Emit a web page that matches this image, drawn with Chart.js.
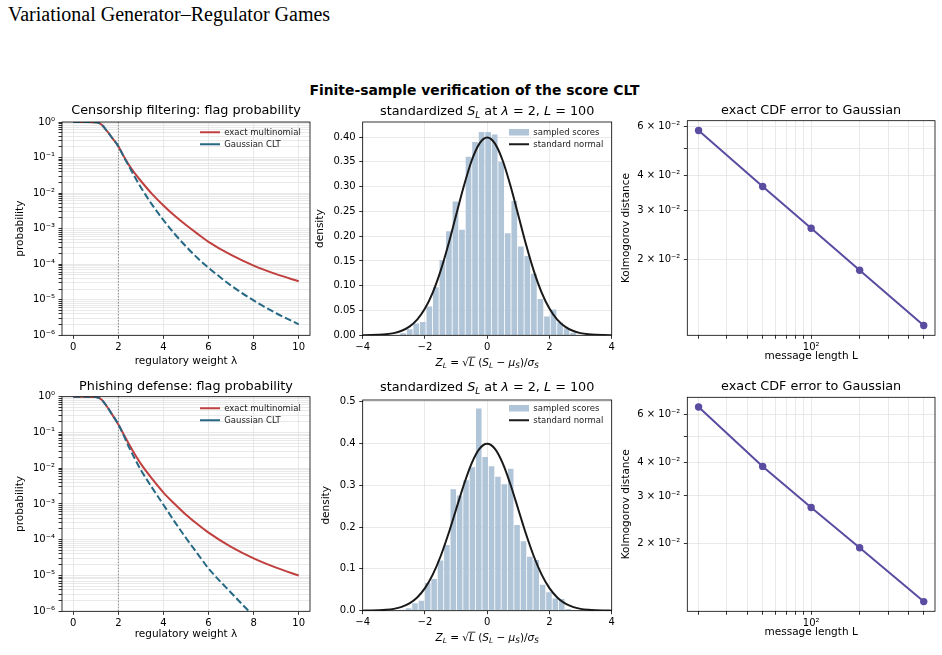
<!DOCTYPE html>
<html>
<head>
<meta charset="utf-8">
<title>Variational Generator–Regulator Games</title>
<script src="https://cdn.jsdelivr.net/npm/chart.js@4.4.1/dist/chart.umd.min.js"></script>
<style>
  html, body { margin:0; padding:0; background:#fff; }
  body { position:relative; width:942px; height:655px; overflow:hidden; }
  #page-title { position:absolute; left:8px; top:2px; font-family:"Liberation Serif", serif; font-size:20px; line-height:24px; color:#000; white-space:nowrap; }
  #suptitle { position:absolute; left:0; top:82px; width:949px; text-align:center; font-family:"DejaVu Sans", sans-serif; font-weight:bold; font-size:13.9px; line-height:16px; color:#000; white-space:nowrap; }
  canvas { position:absolute; }
</style>
</head>
<body>
<div id="page-title">Variational Generator–Regulator Games</div>
<div id="suptitle">Finite-sample verification of the score CLT</div>
<canvas id="c1"></canvas>
<canvas id="c2"></canvas>
<canvas id="c3"></canvas>
<canvas id="c4"></canvas>
<canvas id="c5"></canvas>
<canvas id="c6"></canvas>
<script>
// ---------------- data ----------------
const lambdaGrid   = [0, 0.5, 1, 1.25, 1.5, 1.75, 2, 2.25, 2.5, 2.75, 3, 3.5, 4, 4.5, 5, 5.5, 6, 7, 8, 9, 10];
const censorExact  = [1, 1, 0.98, 0.85, 0.55, 0.339, 0.2065, 0.105, 0.0575, 0.0347, 0.0219, 0.00933, 0.00447, 0.00229, 0.00126, 7.24e-4, 4.27e-4, 1.82e-4, 9.12e-5, 5.25e-5, 3.31e-5];
const censorGauss  = [1, 1, 0.98, 0.85, 0.55, 0.339, 0.2065, 0.102, 0.0525, 0.0269, 0.01445, 0.00468, 0.00174, 7.08e-4, 3.16e-4, 1.51e-4, 7.94e-5, 2.51e-5, 9.55e-6, 4.17e-6, 2.04e-6];
const phishExact   = [1, 1, 0.98, 0.83, 0.525, 0.30, 0.168, 0.0851, 0.0437, 0.0234, 0.0132, 0.00501, 0.00209, 0.001, 5.01e-4, 2.75e-4, 1.58e-4, 6.31e-5, 3.02e-5, 1.66e-5, 1.0e-5];
const phishGauss   = [1, 1, 0.98, 0.83, 0.525, 0.30, 0.168, 0.0794, 0.0355, 0.0174, 0.00891, 0.00282, 9.55e-4, 3.16e-4, 1.12e-4, 4.17e-5, 1.58e-5, 3.31e-6, 7.59e-7, 2.24e-7, 7.94e-8];
const markedLambda = 2;

const hist1Centers = [-2.70, -2.49, -2.28, -2.07, -1.86, -1.65, -1.44, -1.23, -1.02, -0.81, -0.60, -0.39, -0.18, 0.03, 0.24, 0.45, 0.66, 0.87, 1.08, 1.29, 1.50, 1.71, 1.92, 2.13, 2.34, 2.55, 2.76];
const hist1Density = [0.004, 0.012, 0.024, 0.027, 0.058, 0.097, 0.152, 0.210, 0.270, 0.213, 0.360, 0.390, 0.410, 0.410, 0.405, 0.350, 0.206, 0.271, 0.179, 0.160, 0.124, 0.073, 0.038, 0.052, 0.026, 0.014, 0.005];
const hist2Centers = [-2.73, -2.525, -2.32, -2.115, -1.91, -1.705, -1.50, -1.295, -1.09, -0.885, -0.68, -0.475, -0.27, -0.065, 0.14, 0.345, 0.55, 0.755, 0.96, 1.165, 1.37, 1.575, 1.78, 1.985, 2.19, 2.395, 2.60];
const hist2Density = [0.002, 0.006, 0.018, 0.024, 0.066, 0.076, 0.120, 0.157, 0.290, 0.275, 0.312, 0.343, 0.483, 0.367, 0.345, 0.320, 0.302, 0.339, 0.205, 0.166, 0.129, 0.121, 0.062, 0.044, 0.029, 0.028, 0.004];

const normalX       = [-4, -3.75, -3.5, -3.25, -3, -2.75, -2.5, -2.25, -2, -1.75, -1.5, -1.25, -1, -0.75, -0.5, -0.25, 0, 0.25, 0.5, 0.75, 1, 1.25, 1.5, 1.75, 2, 2.25, 2.5, 2.75, 3, 3.25, 3.5, 3.75, 4];
const normalDensity = [0.0001, 0.0004, 0.0009, 0.0020, 0.0044, 0.0091, 0.0175, 0.0317, 0.0540, 0.0863, 0.1295, 0.1826, 0.2420, 0.3011, 0.3521, 0.3867, 0.3989, 0.3867, 0.3521, 0.3011, 0.2420, 0.1826, 0.1295, 0.0863, 0.0540, 0.0317, 0.0175, 0.0091, 0.0044, 0.0020, 0.0009, 0.0004, 0.0001];

const msgLength = [20, 50, 100, 200, 500];
const ksCensor  = [0.0582, 0.0366, 0.0259, 0.0183, 0.01158];
const ksPhish   = [0.0640, 0.0386, 0.0272, 0.0193, 0.0122];

// ---------------- tick labels ----------------
const lambdaTicks   = [0, 2, 4, 6, 8, 10];
const probExponents = [-6, -5, -4, -3, -2, -1, 0];
const zTicks        = [-4, -2, 0, 2, 4];
const density1Ticks = [0, 0.05, 0.10, 0.15, 0.20, 0.25, 0.30, 0.35, 0.40];
const density2Ticks = [0, 0.1, 0.2, 0.3, 0.4, 0.5];
const ksTickValues  = [0.02, 0.03, 0.04, 0.05, 0.06];
const ksTickLabels  = ['2 × 10⁻²', '3 × 10⁻²', '4 × 10⁻²', '', '6 × 10⁻²'];
const lenTickValues = [20, 30, 40, 50, 60, 70, 80, 90, 100, 200, 300, 400, 500];
const lenTickLabels = ['', '', '', '', '', '', '', '', '10²', '', '', '', ''];

// ---------------- styles ----------------
const RED = '#c0403f', BLUE = '#276985', PURPLE = '#5a4ca0', BAR = '#b1c5d9', GRID = '#e3e3e3';
const TITLE_FS = 12.8, LABEL_FS = 10.5, TICK_FS = 10, LEG_FS = 8.5;
const TITLE_LH = TITLE_FS * 1.2, LABEL_LH = LABEL_FS * 1.2;

Chart.defaults.font.family = 'DejaVu Sans';
Chart.defaults.color = '#000';

const SUP = {'-':'⁻','0':'⁰','1':'¹','2':'²','3':'³','4':'⁴','5':'⁵','6':'⁶','7':'⁷','8':'⁸','9':'⁹'};
const sup = s => String(s).split('').map(c => SUP[c] || c).join('');
const probTickValues = [];
probExponents.forEach(e => {
  if (e === 0) { probTickValues.push(1); return; }
  for (let k = 1; k <= 9; k++) probTickValues.push(Number((k * Math.pow(10, e)).toPrecision(2)));
});
function powLabel(v) {
  const e = Math.log10(v), r = Math.round(e);
  return Math.abs(e - r) < 1e-6 ? '10' + sup(r) : '';
}
const fmtNum = v => (v < 0 ? '−' + Math.abs(v) : String(v));

// ---------------- plugins ----------------
const frame = {
  id: 'frame',
  afterDatasetsDraw(chart) {
    const a = chart.chartArea, c = chart.ctx;
    c.save(); c.strokeStyle = '#000'; c.lineWidth = 0.8;
    c.strokeRect(a.left, a.top, a.right - a.left, a.bottom - a.top);
    c.restore();
  }
};
const legendMove = {
  id: 'legendMove',
  afterLayout(chart, args, opts) {
    const lg = chart.legend;
    if (!lg || opts.x == null) return;
    const pad = lg.options.labels.padding;
    lg.left = opts.x - pad;
    lg.top = opts.y - LEG_FS / 2 - pad;
    lg.right = chart.width;
    lg.bottom = chart.height;
  }
};
const vmark = {
  id: 'vmark',
  beforeDatasetsDraw(chart, args, opts) {
    if (opts.value == null) return;
    const x = chart.scales.x.getPixelForValue(opts.value), a = chart.chartArea, c = chart.ctx;
    c.save(); c.strokeStyle = '#8a8a8a'; c.lineWidth = 1; c.setLineDash([1.5, 1.5]);
    c.beginPath(); c.moveTo(x, a.top); c.lineTo(x, a.bottom); c.stroke(); c.restore();
  }
};
function drawRich(ctx, segs, cx, cy, size) {
  const fontFor = s => (s.i ? 'italic ' : '') + (s.s ? size * 0.7 : size) + 'px "DejaVu Sans"';
  let total = 0;
  const widths = segs.map(s => { ctx.font = fontFor(s); const w = ctx.measureText(s.t).width; total += w; return w; });
  let x = cx - total / 2;
  const base = cy + size * 0.36;
  ctx.save(); ctx.fillStyle = '#000'; ctx.textBaseline = 'alphabetic'; ctx.textAlign = 'left';
  segs.forEach((s, i) => {
    ctx.font = fontFor(s);
    ctx.fillText(s.t, x, s.s ? base + size * 0.22 : base);
    if (s.o) {
      ctx.strokeStyle = '#000'; ctx.lineWidth = 0.8;
      ctx.beginPath(); ctx.moveTo(x - 0.5, base - size * 0.82); ctx.lineTo(x + widths[i] + 0.5, base - size * 0.82); ctx.stroke();
    }
    x += widths[i];
  });
  ctx.restore();
}
const richText = {
  id: 'richText',
  afterDraw(chart, args, opts) { (opts.items || []).forEach(it => drawRich(chart.ctx, it.segs, it.x, it.y, it.size)); }
};
const histTitleSegs = [{t:'standardized '}, {t:'S', i:1}, {t:'L', i:1, s:1}, {t:' at '}, {t:'λ', i:1}, {t:' = 2, '}, {t:'L', i:1}, {t:' = 100'}];
const histXLabelSegs = [{t:'Z', i:1}, {t:'L', i:1, s:1}, {t:' = '}, {t:'√'}, {t:'L', i:1, o:1}, {t:' ('}, {t:'S', i:1}, {t:'L', i:1, s:1}, {t:' − '}, {t:'μ', i:1}, {t:'S', i:1, s:1}, {t:')/'}, {t:'σ', i:1}, {t:'S', i:1, s:1}];

// ---------------- layout helpers ----------------
function mount(id, p) {
  const CL = Math.floor(p.ylX - LABEL_LH / 2);
  const CT = Math.floor(p.tY - TITLE_LH / 2 - 2);
  const CR = Math.ceil(p.R + (p.padR || 12));
  const CB = Math.ceil(p.xlY + LABEL_LH / 2);
  const g = { CL, CT, CW: CR - CL, CH: CB - CT, yW: p.L - CL, xH: CB - p.B, padR: CR - p.R,
    titleTop: p.tY - TITLE_LH / 2 - CT, titleBottom: p.T - p.tY - TITLE_LH / 2,
    yTitleOff: p.ylX - CL - LABEL_LH / 2, xTitleOff: CB - p.xlY - LABEL_LH / 2 };
  const cv = document.getElementById(id);
  cv.width = g.CW; cv.height = g.CH;
  cv.style.left = CL + 'px'; cv.style.top = CT + 'px';
  cv.style.width = g.CW + 'px'; cv.style.height = g.CH + 'px';
  g.el = cv;
  return g;
}
const gridOpts = () => ({ color: GRID, lineWidth: 0.8, drawTicks: true, tickLength: 3.5, tickWidth: 0.8, tickColor: '#000', offset: false });
const tickOpts = (cb, pad) => ({ autoSkip: false, maxRotation: 0, minRotation: 0, padding: pad, font: { size: TICK_FS }, color: '#000', callback: cb });
const fixTicks = vals => s => { s.ticks = vals.map(v => ({ value: v })); };
const xTitle = (text, g) => ({ display: true, text, font: { size: LABEL_FS }, color: '#000', padding: { top: 0, bottom: g.xTitleOff } });
const yTitle = (text, g) => ({ display: true, text, font: { size: LABEL_FS }, color: '#000', padding: { top: g.yTitleOff, bottom: 0 } });
const titleOpts = (text, g) => ({ display: true, text, fullSize: false, color: '#000', font: { size: TITLE_FS, weight: 'normal' }, padding: { top: g.titleTop, bottom: g.titleBottom } });
const legendOpts = () => ({ display: true, position: 'chartArea', align: 'start',
  labels: { usePointStyle: true, pointStyleWidth: 20, boxHeight: 6.5, padding: 3.5, color: '#222', font: { size: LEG_FS },
    sort: (a, b) => a.datasetIndex - b.datasetIndex } });
const baseOptions = (g, padTop) => ({ responsive: false, maintainAspectRatio: false, animation: false, events: [], devicePixelRatio: 1,
  layout: { autoPadding: false, padding: { left: 0, top: padTop, right: g.padR, bottom: 0 } } });

// ---------------- panels ----------------
function probPanel(id, p, title, exact, gauss, leg) {
  const g = mount(id, p);
  new Chart(g.el, {
    type: 'line',
    data: { datasets: [
      { label: 'exact multinomial', data: lambdaGrid.map((x, i) => ({ x, y: exact[i] })), borderColor: RED, backgroundColor: RED, borderWidth: 2, pointRadius: 0, pointStyle: 'line', cubicInterpolationMode: 'monotone', order: 2 },
      { label: 'Gaussian CLT', data: lambdaGrid.map((x, i) => ({ x, y: gauss[i] })), borderColor: BLUE, backgroundColor: BLUE, borderWidth: 2, borderDash: [7, 3], pointRadius: 0, pointStyle: 'line', cubicInterpolationMode: 'monotone', order: 1 }
    ] },
    options: Object.assign(baseOptions(g, 0), {
      scales: {
        x: { type: 'linear', min: -0.5, max: 10.5, afterBuildTicks: fixTicks(lambdaTicks), afterFit: s => { s.height = g.xH; },
             ticks: tickOpts(fmtNum, 2.5), grid: gridOpts(), border: { display: false }, title: xTitle('regulatory weight λ', g) },
        y: { type: 'logarithmic', min: 1e-6, max: 1, afterBuildTicks: fixTicks(probTickValues), afterFit: s => { s.width = g.yW; },
             ticks: tickOpts(powLabel, 3.5), grid: gridOpts(), border: { display: false }, title: yTitle('probability', g) }
      },
      plugins: { title: titleOpts(title, g), legend: legendOpts(), tooltip: { enabled: false },
        legendMove: { x: leg.x - g.CL, y: leg.y - g.CT }, vmark: { value: markedLambda } }
    }),
    plugins: [frame, legendMove, vmark]
  });
}

function histPanel(id, p, centers, dens, yMax, yTicks, yFmt, leg) {
  const g = mount(id, p);
  new Chart(g.el, {
    type: 'bar',
    data: { datasets: [
      { type: 'bar', label: 'sampled scores', data: centers.map((x, i) => ({ x, y: dens[i] })), backgroundColor: BAR, borderWidth: 0, barPercentage: 0.87, categoryPercentage: 1, pointStyle: 'rect', order: 2 },
      { type: 'line', label: 'standard normal', data: normalX.map((x, i) => ({ x, y: normalDensity[i] })), borderColor: '#1a1a1a', backgroundColor: '#1a1a1a', borderWidth: 2, pointRadius: 0, pointStyle: 'line', cubicInterpolationMode: 'monotone', order: 1 }
    ] },
    options: Object.assign(baseOptions(g, p.T - g.CT), {
      scales: {
        x: { type: 'linear', min: -4, max: 4, offset: false, afterBuildTicks: fixTicks(zTicks), afterFit: s => { s.height = g.xH; },
             ticks: tickOpts(fmtNum, 2.5), grid: gridOpts(), border: { display: false }, title: { display: false } },
        y: { type: 'linear', min: 0, max: yMax, afterBuildTicks: fixTicks(yTicks), afterFit: s => { s.width = g.yW; },
             ticks: tickOpts(yFmt, 3.5), grid: gridOpts(), border: { display: false }, title: yTitle('density', g) }
      },
      plugins: { title: { display: false }, legend: legendOpts(), tooltip: { enabled: false },
        legendMove: { x: leg.x - g.CL, y: leg.y - g.CT },
        richText: { items: [
          { segs: histTitleSegs, x: (p.L + p.R) / 2 - g.CL, y: p.tY - g.CT, size: TITLE_FS },
          { segs: histXLabelSegs, x: (p.L + p.R) / 2 - g.CL, y: p.xlY - g.CT, size: LABEL_FS }
        ] } }
    }),
    plugins: [frame, legendMove, richText]
  });
}

function ksPanel(id, p, ks, yMin, yMax) {
  const g = mount(id, p);
  new Chart(g.el, {
    type: 'line',
    data: { datasets: [
      { label: 'Kolmogorov distance', data: msgLength.map((x, i) => ({ x, y: ks[i] })), borderColor: PURPLE, backgroundColor: PURPLE, pointBackgroundColor: PURPLE, borderWidth: 2, pointRadius: 3.7, pointBorderWidth: 0, tension: 0 }
    ] },
    options: Object.assign(baseOptions(g, 0), {
      scales: {
        x: { type: 'logarithmic', min: 17.02, max: 587.4, afterBuildTicks: fixTicks(lenTickValues), afterFit: s => { s.height = g.xH; },
             ticks: tickOpts((v, i) => lenTickLabels[i], 2.5), grid: gridOpts(), border: { display: false }, title: xTitle('message length L', g) },
        y: { type: 'logarithmic', min: yMin, max: yMax, afterBuildTicks: fixTicks(ksTickValues), afterFit: s => { s.width = g.yW; },
             ticks: tickOpts((v, i) => ksTickLabels[i], 3.5), grid: gridOpts(), border: { display: false }, title: yTitle('Kolmogorov distance', g) }
      },
      plugins: { title: titleOpts('exact CDF error to Gaussian', g), legend: { display: false }, tooltip: { enabled: false } }
    }),
    plugins: [frame]
  });
}

probPanel('c1', { L: 62, T: 122, R: 310, B: 335.3, tY: 110.7, xlY: 361, ylX: 20 }, 'Censorship filtering: flag probability', censorExact, censorGauss, { x: 200, y: 132.3 });
histPanel('c2', { L: 362.7, T: 122, R: 611.7, B: 335.3, tY: 110.7, xlY: 362, ylX: 320.5 }, hist1Centers, hist1Density, 0.4303, density1Ticks, v => v.toFixed(2), { x: 509, y: 132.3 });
ksPanel('c3', { L: 687.3, T: 120.7, R: 935, B: 335.3, tY: 110.7, xlY: 356.3, ylX: 626.5, padR: 7 }, ksCensor, 0.010681, 0.0631);
probPanel('c4', { L: 62, T: 396.7, R: 310, B: 611.3, tY: 386.5, xlY: 634, ylX: 20.5 }, 'Phishing defense: flag probability', phishExact, phishGauss, { x: 200, y: 408.3 });
histPanel('c5', { L: 362.7, T: 400, R: 611.7, B: 610.7, tY: 386.5, xlY: 637, ylX: 326 }, hist2Centers, hist2Density, 0.5035, density2Ticks, v => v.toFixed(1), { x: 509, y: 408.3 });
ksPanel('c6', { L: 687.3, T: 397.3, R: 935, B: 611.3, tY: 386.5, xlY: 632.3, ylX: 626.5, padR: 7 }, ksPhish, 0.01123, 0.06955);
</script>
</body>
</html>
